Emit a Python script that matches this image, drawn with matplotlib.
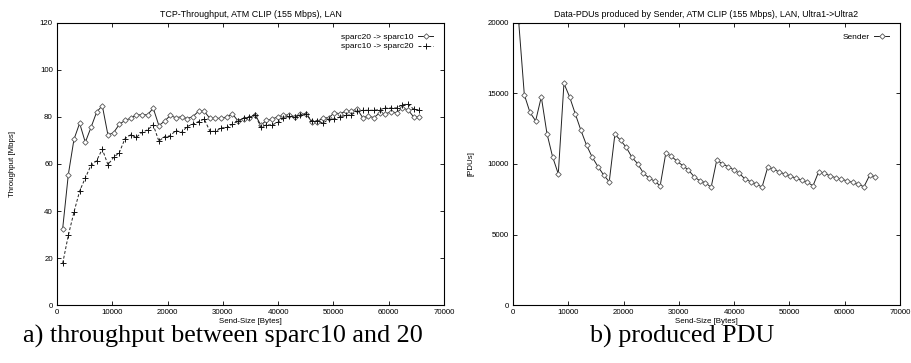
import matplotlib
matplotlib.use("Agg")
import matplotlib.pyplot as plt

# send sizes in bytes (1 KB steps)
send_size = [1024, 2048, 3072, 4096, 5120, 6144, 7168, 8192, 9216, 10240,
             11264, 12288, 13312, 14336, 15360, 16384, 17408, 18432, 19456, 20480,
             21504, 22528, 23552, 24576, 25600, 26624, 27648, 28672, 29696, 30720,
             31744, 32768, 33792, 34816, 35840, 36864, 37888, 38912, 39936, 40960,
             41984, 43008, 44032, 45056, 46080, 47104, 48128, 49152, 50176, 51200,
             52224, 53248, 54272, 55296, 56320, 57344, 58368, 59392, 60416, 61440,
             62464, 63488, 64512, 65536]

# throughput [Mbps]
s20_to_s10 = [32.5, 55.5, 70.5, 77.3, 69.2, 75.5, 82.0, 84.8, 72.3, 73.3,
              76.8, 78.5, 79.4, 80.8, 80.9, 80.9, 83.7, 76.3, 78.2, 80.6,
              79.6, 80.1, 79.3, 80.1, 82.4, 82.4, 79.4, 79.4, 79.4, 80.0,
              81.2, 78.2, 79.3, 79.7, 81.0, 76.5, 78.5, 79.0, 80.1, 80.6,
              80.9, 80.1, 81.1, 81.3, 77.9, 78.0, 79.6, 79.6, 81.8, 81.3,
              82.4, 82.4, 83.4, 79.7, 80.3, 79.7, 81.7, 81.3, 82.1, 81.8,
              83.8, 83.0, 80.0, 80.0]
s10_to_s20 = [17.8, 29.7, 39.6, 48.5, 54.1, 59.4, 61.4, 66.3, 59.7, 62.8,
              64.8, 70.7, 72.4, 71.3, 73.4, 74.5, 76.6, 69.7, 71.6, 72.0,
              74.2, 73.4, 75.9, 76.9, 78.0, 79.1, 74.0, 73.8, 75.3, 75.5,
              76.9, 78.4, 79.4, 80.0, 81.0, 75.7, 76.6, 76.6, 77.7, 79.4,
              80.3, 79.9, 80.9, 81.3, 78.3, 78.3, 77.3, 79.1, 79.1, 79.9,
              80.6, 80.9, 82.3, 82.8, 82.8, 82.8, 83.1, 83.7, 83.8, 83.8,
              85.2, 85.4, 83.3, 82.8]

# data PDUs produced by sender
pdus = [20100, 14900, 13650, 13050, 14750, 12150, 10500, 9300, 15700, 14750,
        13550, 12380, 11320, 10480, 9820, 9230, 8740, 12100, 11680, 11180,
        10480, 10030, 9380, 9010, 8790, 8460, 10780, 10540, 10190, 9880,
        9570, 9100, 8810, 8670, 8350, 10280, 10000, 9810, 9580, 9340,
        8920, 8750, 8560, 8370, 9770, 9620, 9450, 9290, 9150, 8990,
        8860, 8700, 8460, 9450, 9330, 9170, 9030, 8940, 8800, 8700,
        8560, 8390, 9200, 9100]

plt.rcParams['font.family'] = ['Liberation Sans', 'DejaVu Sans']

fig = plt.figure(figsize=(9.12, 3.63), dpi=100)
ax1 = fig.add_axes([0.0625, 0.159, 0.4243, 0.7785])
ax2 = fig.add_axes([0.5625, 0.159, 0.4243, 0.7785])

fs = 5.7

def style(ax, yticks):
    ax.set_xlim(0, 70000)
    ax.set_xticks(range(0, 70001, 10000))
    ax.set_yticks(yticks)
    ax.set_ylim(yticks[0], yticks[-1])
    ax.tick_params(direction='in', length=3, width=0.6, labelsize=fs,
                   top=True, right=True, pad=3)
    for sp in ax.spines.values():
        sp.set_linewidth(0.8)
    ax.set_xlabel('Send-Size [Bytes]', fontsize=fs, labelpad=1)

style(ax1, [0, 20, 40, 60, 80, 100, 120])
ax1.plot(send_size, s20_to_s10, color='#222222', lw=0.7, marker='D', ms=2.8,
         mfc='white', mec='#555555', mew=0.6, label='sparc20 -> sparc10')
ax1.plot(send_size, s10_to_s20, color='#222222', lw=0.7, ls=(0, (3, 2)),
         marker='+', ms=4.5, mec='#111111', mew=0.7, label='sparc10 -> sparc20')
ax1.set_title('TCP-Throughput, ATM CLIP (155 Mbps), LAN', fontsize=6.4, pad=4)
ax1.set_ylabel('Throughput [Mbps]', fontsize=fs, labelpad=17)
ax1.legend(loc='upper right', frameon=False, markerfirst=False, fontsize=6,
           handlelength=1.8, handletextpad=0.5, labelspacing=0.15,
           borderaxespad=0.9)

style(ax2, [0, 5000, 10000, 15000, 20000])
ax2.plot(send_size, pdus, color='#222222', lw=0.7, marker='D', ms=2.8,
         mfc='white', mec='#555555', mew=0.6, label='Sender')
ax2.set_title('Data-PDUs produced by Sender, ATM CLIP (155 Mbps), LAN, Ultra1->Ultra2',
              fontsize=6.4, pad=4)
ax2.set_ylabel('[PDUs]', fontsize=fs, labelpad=9)
ax2.legend(loc='upper right', frameon=False, markerfirst=False, fontsize=6,
           handlelength=1.8, handletextpad=0.5, borderaxespad=0.9)

fig.text(0.244, 0.072, 'a) throughput between sparc10 and 20', ha='center',
         va='center', fontsize=18.8, family='Liberation Serif')
fig.text(0.748, 0.072, 'b) produced PDU', ha='center', va='center',
         fontsize=18.8, family='Liberation Serif')

fig.savefig('out.png', dpi=100)
